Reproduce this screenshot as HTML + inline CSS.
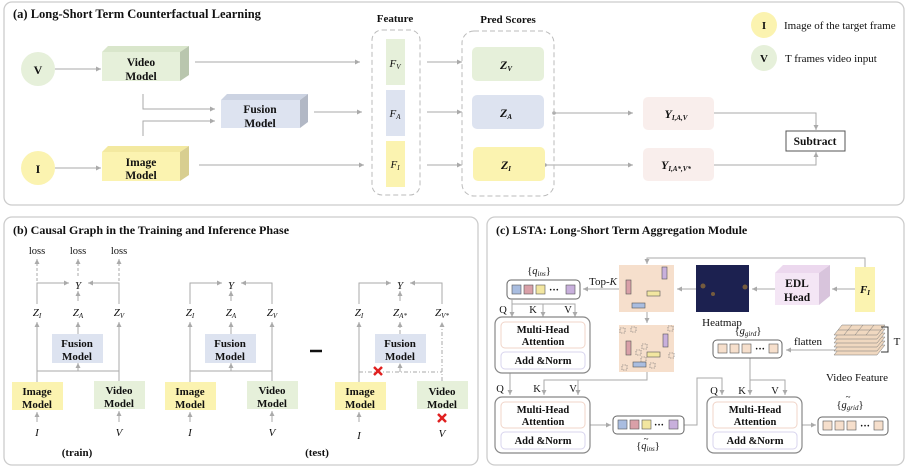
<!DOCTYPE html>
<html><head><meta charset="utf-8"><style>
html,body{margin:0;padding:0;background:#fff}
svg{display:block}
text{font-family:"Liberation Serif",serif;fill:#111}
.b{font-weight:bold}
.i{font-style:italic}
</style></head><body>
<svg width="908" height="471" viewBox="0 0 908 471" xmlns="http://www.w3.org/2000/svg">
<defs>
<marker id="a" markerWidth="6" markerHeight="6" refX="5" refY="3" orient="auto" markerUnits="userSpaceOnUse"><path d="M0,0.5 L5,3 L0,5.5 Z" fill="#aaa"/></marker>
</defs>
<g fill="none" stroke="#ccc" stroke-width="1.3">
<rect x="4" y="2" width="900" height="203" rx="8"/>
<rect x="4" y="217" width="474" height="248" rx="8"/>
<rect x="487" y="217" width="417" height="248" rx="8"/>
</g>
<!-- Panel a -->
<text x="13" y="18" class="b" font-size="12.5">(a) Long-Short Term Counterfactual Learning</text>
<circle cx="38" cy="69" r="17" fill="#e6f0da"/><text x="38" y="74" class="b" font-size="12" text-anchor="middle">V</text>
<circle cx="38" cy="168" r="17" fill="#fbf3b0"/><text x="38" y="173" class="b" font-size="12" text-anchor="middle">I</text>
<polygon points="102,52 108,46 189,46 180,52" fill="#d9e6cb"/><polygon points="180,52 189,46 189,75 180,81" fill="#b9c6ae"/><rect x="102" y="52" width="78" height="29" fill="#e6f0da"/>
<text x="141" y="66" class="b" font-size="11.5" text-anchor="middle">Video</text><text x="141" y="80" class="b" font-size="11.5" text-anchor="middle">Model</text>
<polygon points="221,100 227,94 308,94 300,100" fill="#ccd3e2"/><polygon points="300,100 308,94 308,122 300,128" fill="#b2b8c5"/><rect x="221" y="100" width="79" height="28" fill="#dde3f0"/>
<text x="260" y="113" class="b" font-size="11.5" text-anchor="middle">Fusion</text><text x="260" y="127" class="b" font-size="11.5" text-anchor="middle">Model</text>
<polygon points="102,152 108,146 189,146 180,152" fill="#f3e9a0"/><polygon points="180,152 189,146 189,175 180,181" fill="#d8ce90"/><rect x="102" y="152" width="78" height="29" fill="#fbf3b0"/>
<text x="141" y="166" class="b" font-size="11.5" text-anchor="middle">Image</text><text x="141" y="179" class="b" font-size="11.5" text-anchor="middle">Model</text>
<g stroke="#aaa" stroke-width="1" fill="none" marker-end="url(#a)">
<line x1="55" y1="69" x2="101" y2="69"/><line x1="55" y1="168" x2="101" y2="168"/>
<line x1="195" y1="62" x2="360" y2="62"/><line x1="314" y1="112" x2="362" y2="112"/><line x1="199" y1="165" x2="364" y2="165"/>
<polyline points="143,94 143,109 215,109"/><polyline points="143,136 143,121 215,121"/>
<line x1="427" y1="62" x2="462" y2="62"/><line x1="427" y1="112" x2="462" y2="112"/><line x1="427" y1="165" x2="462" y2="165"/>
<line x1="554" y1="113" x2="633" y2="113"/><line x1="545" y1="165" x2="633" y2="165"/>
<polyline points="714,113 816,113 816,130"/><polyline points="714,165 816,165 816,152"/>
</g>
<circle cx="554" cy="113" r="1.8" fill="#aaa"/><circle cx="545" cy="165" r="1.8" fill="#aaa"/>
<text x="395" y="22" class="b" font-size="11" text-anchor="middle">Feature</text>
<rect x="372" y="30" width="48" height="165" rx="10" fill="none" stroke="#bbb" stroke-dasharray="5,3"/>
<rect x="386" y="39" width="19" height="46" fill="#e6f0da"/><rect x="386" y="90" width="19" height="46" fill="#dde3f0"/><rect x="386" y="141" width="19" height="46" fill="#fbf3b0"/>
<text x="395" y="67" class="i" font-size="11" text-anchor="middle">F<tspan font-size="7" dy="2">V</tspan></text>
<text x="395" y="117" class="i" font-size="11" text-anchor="middle">F<tspan font-size="7" dy="2">A</tspan></text>
<text x="395" y="168" class="i" font-size="11" text-anchor="middle">F<tspan font-size="7" dy="2">I</tspan></text>
<text x="508" y="23" class="b" font-size="11" text-anchor="middle">Pred Scores</text>
<rect x="462" y="31" width="92" height="165" rx="12" fill="none" stroke="#bbb" stroke-dasharray="5,3"/>
<rect x="472" y="47" width="72" height="34" rx="5" fill="#e6f0da"/><rect x="472" y="95" width="72" height="34" rx="5" fill="#dde3f0"/><rect x="473" y="147" width="72" height="34" rx="5" fill="#fbf3b0"/>
<text x="506" y="69" class="b i" font-size="12" text-anchor="middle">Z<tspan font-size="7" dy="2">V</tspan></text>
<text x="506" y="117" class="b i" font-size="12" text-anchor="middle">Z<tspan font-size="7" dy="2">A</tspan></text>
<text x="506" y="169" class="b i" font-size="12" text-anchor="middle">Z<tspan font-size="7" dy="2">I</tspan></text>
<rect x="643" y="97" width="71" height="33" rx="5" fill="#f9eeec"/><rect x="643" y="148" width="71" height="33" rx="5" fill="#f9eeec"/>
<text x="676" y="118" class="b i" font-size="12" text-anchor="middle">Y<tspan font-size="7" dy="2">I,A,V</tspan></text>
<text x="676" y="169" class="b i" font-size="12" text-anchor="middle">Y<tspan font-size="7" dy="2">I,A*,V*</tspan></text>
<rect x="786" y="131" width="59" height="20" fill="#fff" stroke="#555" stroke-width="1"/>
<text x="815" y="145" class="b" font-size="11.5" text-anchor="middle">Subtract</text>
<circle cx="764" cy="25" r="13" fill="#fbf3b0"/><text x="764" y="29" class="b" font-size="11" text-anchor="middle">I</text>
<circle cx="764" cy="58" r="13" fill="#e6f0da"/><text x="764" y="62" class="b" font-size="11" text-anchor="middle">V</text>
<text x="784" y="29" font-size="11">Image of the target frame</text>
<text x="785" y="62" font-size="11">T frames video input</text>
<!-- Panel b -->
<text x="13" y="234" class="b" font-size="12">(b) Causal Graph in the Training and Inference Phase</text>
<g font-size="10.5">
<text x="37" y="254" text-anchor="middle">loss</text><text x="78" y="254" text-anchor="middle">loss</text><text x="119" y="254" text-anchor="middle">loss</text>
</g>
<g stroke="#aaa" stroke-width="1" fill="none" marker-end="url(#a)" stroke-dasharray="3,2">
<line x1="37" y1="281" x2="37" y2="259"/><line x1="78" y1="276" x2="78" y2="259"/><line x1="119" y1="281" x2="119" y2="259"/>
</g>
<g id="g1">
<g stroke="#aaa" stroke-width="1" fill="none" marker-end="url(#a)">
<polyline points="37,304 37,283 69,283"/><polyline points="119,304 119,283 88,283"/>
<line x1="78" y1="301" x2="78" y2="291"/><line x1="78" y1="334" x2="78" y2="322"/>
<line x1="37" y1="382" x2="37" y2="322"/><line x1="119" y1="381" x2="119" y2="322"/>
<line x1="78" y1="371" x2="78" y2="363"/>
<line x1="37" y1="422" x2="37" y2="412"/><line x1="119" y1="422" x2="119" y2="411"/>
</g>
<line x1="37" y1="371" x2="119" y2="371" stroke="#aaa"/>
<text x="78" y="289" class="i" font-size="11" text-anchor="middle">Y</text>
<text x="37" y="316" class="i" font-size="11" text-anchor="middle">Z<tspan font-size="7" dy="2">I</tspan></text>
<text x="78" y="316" class="i" font-size="11" text-anchor="middle">Z<tspan font-size="7" dy="2">A</tspan></text>
<text x="119" y="316" class="i" font-size="11" text-anchor="middle">Z<tspan font-size="7" dy="2">V</tspan></text>
<rect x="52" y="334" width="51" height="29" fill="#dde3f0"/>
<text x="77" y="347" class="b" font-size="11" text-anchor="middle">Fusion</text><text x="77" y="360" class="b" font-size="11" text-anchor="middle">Model</text>
<rect x="12" y="382" width="51" height="28" fill="#fbf3b0"/>
<text x="37" y="395" class="b" font-size="11" text-anchor="middle">Image</text><text x="37" y="408" class="b" font-size="11" text-anchor="middle">Model</text>
<rect x="94" y="381" width="51" height="28" fill="#e6f0da"/>
<text x="119" y="394" class="b" font-size="11" text-anchor="middle">Video</text><text x="119" y="407" class="b" font-size="11" text-anchor="middle">Model</text>
<text x="37" y="436" class="i" font-size="11" text-anchor="middle">I</text><text x="119" y="436" class="i" font-size="11" text-anchor="middle">V</text>
</g>
<use href="#g1" x="153" y="0"/>
<text x="77" y="456" class="b" font-size="11" text-anchor="middle">(train)</text>
<text x="317" y="456" class="b" font-size="11" text-anchor="middle">(test)</text>
<line x1="310" y1="351" x2="322" y2="351" stroke="#111" stroke-width="2.5"/>
<g stroke="#aaa" stroke-width="1" fill="none" marker-end="url(#a)">
<polyline points="359,304 359,283 391,283"/><polyline points="442,304 442,283 410,283"/>
<line x1="400" y1="301" x2="400" y2="291"/>
<line x1="359" y1="382" x2="359" y2="322"/>
<line x1="359" y1="422" x2="359" y2="412"/>
</g>
<g stroke="#aaa" stroke-width="1" fill="none" stroke-dasharray="4,2,1,2" marker-end="url(#a)">
<line x1="400" y1="334" x2="400" y2="322"/><line x1="442" y1="381" x2="442" y2="322"/><line x1="400" y1="372" x2="400" y2="363"/>
</g>
<line x1="359" y1="372" x2="442" y2="372" stroke="#aaa" stroke-dasharray="4,2,1,2"/>
<text x="400" y="289" class="i" font-size="11" text-anchor="middle">Y</text>
<text x="359" y="316" class="i" font-size="11" text-anchor="middle">Z<tspan font-size="7" dy="2">I</tspan></text>
<text x="400" y="316" class="i" font-size="11" text-anchor="middle">Z<tspan font-size="7" dy="2">A*</tspan></text>
<text x="442" y="316" class="i" font-size="11" text-anchor="middle">Z<tspan font-size="7" dy="2">V*</tspan></text>
<rect x="375" y="334" width="51" height="29" fill="#dde3f0"/>
<text x="400" y="347" class="b" font-size="11" text-anchor="middle">Fusion</text><text x="400" y="360" class="b" font-size="11" text-anchor="middle">Model</text>
<rect x="335" y="382" width="51" height="28" fill="#fbf3b0"/>
<text x="360" y="395" class="b" font-size="11" text-anchor="middle">Image</text><text x="360" y="408" class="b" font-size="11" text-anchor="middle">Model</text>
<rect x="417" y="381" width="51" height="28" fill="#e6f0da"/>
<text x="442" y="395" class="b" font-size="11" text-anchor="middle">Video</text><text x="442" y="408" class="b" font-size="11" text-anchor="middle">Model</text>
<text x="359" y="439" class="i" font-size="11" text-anchor="middle">I</text><text x="442" y="437" class="i" font-size="11" text-anchor="middle">V</text>
<g stroke="#e02020" stroke-width="2.5"><line x1="374" y1="367" x2="382" y2="375"/><line x1="382" y1="367" x2="374" y2="375"/><line x1="438" y1="414" x2="446" y2="422"/><line x1="446" y1="414" x2="438" y2="422"/></g>
<!-- Panel c -->
<text x="496" y="234" class="b" font-size="12">(c) LSTA: Long-Short Term Aggregation Module</text>
<text x="539" y="274" font-size="10.5" text-anchor="middle">{<tspan class="i">q</tspan><tspan class="i" font-size="7" dy="2">ins</tspan><tspan dy="-2">}</tspan></text>
<rect x="507" y="280" width="73" height="19" rx="4" fill="#fff" stroke="#666"/>
<rect x="512" y="285" width="9" height="9" fill="#a9bde0" stroke="#555" stroke-width=".6"/><rect x="524" y="285" width="9" height="9" fill="#d9a0a8" stroke="#555" stroke-width=".6"/><rect x="536" y="285" width="9" height="9" fill="#f2e6a0" stroke="#555" stroke-width=".6"/><text x="554" y="293" font-size="10" class="b" text-anchor="middle">···</text><rect x="566" y="285" width="9" height="9" fill="#c8b0dc" stroke="#555" stroke-width=".6"/>
<text x="603" y="285" font-size="11" text-anchor="middle">Top-<tspan class="i">K</tspan></text>
<g stroke="#aaa" stroke-width="1" fill="none" marker-end="url(#a)">
<line x1="619" y1="289" x2="583" y2="289"/>
<line x1="696" y1="289" x2="677" y2="289"/><line x1="775" y1="289" x2="752" y2="289"/><line x1="855" y1="289" x2="832" y2="289"/>
<polyline points="865,267 865,258 647,258 647,264"/>
<line x1="647" y1="312" x2="647" y2="323"/>
<polyline points="512,299 512,304 512,317"/><line x1="543" y1="304" x2="543" y2="317"/><polyline points="512,304 575,304 575,317"/>
<line x1="510" y1="373" x2="510" y2="395"/>
<polyline points="647,372 647,380 544,380 544,395"/><line x1="578" y1="380" x2="578" y2="395"/>
<line x1="590" y1="425" x2="611" y2="425"/>
<polyline points="684,425 697,425 697,378 722,378 722,395"/>
<line x1="750" y1="357" x2="750" y2="395"/><polyline points="750,380 785,380 785,395"/>
<line x1="862" y1="350" x2="786" y2="350"/>
<line x1="795" y1="425" x2="816" y2="425"/>
</g>
<rect x="619" y="265" width="55" height="47" fill="#f6dfcc"/>
<rect x="626" y="280" width="5" height="14" fill="#d9a0a8" stroke="#555" stroke-width=".6"/><rect x="662" y="267" width="5" height="12" fill="#c8b0dc" stroke="#555" stroke-width=".6"/><rect x="647" y="291" width="13" height="5" fill="#f2e6a0" stroke="#555" stroke-width=".6"/><rect x="632" y="303" width="13" height="5" fill="#a9bde0" stroke="#555" stroke-width=".6"/>
<rect x="619" y="325" width="55" height="47" fill="#f6dfcc"/>
<rect x="626" y="341" width="5" height="14" fill="#d9a0a8" stroke="#555" stroke-width=".6"/><rect x="663" y="334" width="5" height="13" fill="#c8b0dc" stroke="#555" stroke-width=".6"/><rect x="647" y="352" width="13" height="5" fill="#f2e6a0" stroke="#555" stroke-width=".6"/><rect x="633" y="362" width="13" height="5" fill="#a9bde0" stroke="#555" stroke-width=".6"/>
<g fill="none" stroke="#666" stroke-width=".6" stroke-dasharray="1.5,1"><rect x="620" y="328" width="5" height="5"/><rect x="631" y="327" width="5" height="5"/><rect x="668" y="326" width="5" height="5"/><rect x="642" y="344" width="5" height="5"/><rect x="636" y="350" width="5" height="5"/><rect x="650" y="363" width="5" height="5"/><rect x="669" y="353" width="5" height="5"/><rect x="622" y="365" width="5" height="5"/><rect x="641" y="357" width="5" height="5"/></g>
<rect x="696" y="265" width="53" height="47" fill="#1c2150"/>
<g fill="#8a6a3a" opacity=".8"><circle cx="703" cy="286" r="2.5"/><circle cx="745" cy="287" r="2.5"/><circle cx="713" cy="294" r="2"/></g>
<text x="722" y="326" font-size="11" text-anchor="middle">Heatmap</text>
<polygon points="775,273 783,265 830,265 819,273" fill="#ecd8ee"/><polygon points="819,273 830,265 830,296 819,305" fill="#d8c4dc"/><rect x="775" y="273" width="44" height="32" fill="#f4e6f5"/>
<text x="797" y="287" class="b" font-size="11.5" text-anchor="middle">EDL</text><text x="797" y="301" class="b" font-size="11.5" text-anchor="middle">Head</text>
<rect x="855" y="267" width="20" height="45" fill="#fbf3b0"/><text x="865" y="293" class="b i" font-size="11" text-anchor="middle">F<tspan font-size="7" dy="2">I</tspan></text>
<g font-size="10.5"><text x="503" y="313" text-anchor="middle">Q</text><text x="533" y="313" text-anchor="middle">K</text><text x="568" y="313" text-anchor="middle">V</text>
<text x="500" y="392" text-anchor="middle">Q</text><text x="537" y="392" text-anchor="middle">K</text><text x="573" y="392" text-anchor="middle">V</text>
<text x="714" y="394" text-anchor="middle">Q</text><text x="742" y="394" text-anchor="middle">K</text><text x="775" y="394" text-anchor="middle">V</text></g>
<g id="mha">
<rect x="495" y="317" width="95" height="56" rx="7" fill="#fff" stroke="#888" stroke-width="1.2"/>
<rect x="501" y="322" width="84" height="26" rx="4" fill="#fff" stroke="#f0d4c8"/>
<rect x="501" y="352" width="84" height="17" rx="4" fill="#fff" stroke="#d8d4ee"/>
<text x="543" y="333" class="b" font-size="10.5" text-anchor="middle">Multi-Head</text><text x="543" y="345" class="b" font-size="10.5" text-anchor="middle">Attention</text>
<text x="543" y="364" class="b" font-size="10.5" text-anchor="middle">Add &amp;Norm</text>
</g>
<use href="#mha" x="0" y="80"/>
<use href="#mha" x="212" y="80"/>
<rect x="613" y="416" width="71" height="18" rx="4" fill="#fff" stroke="#666"/>
<rect x="618" y="420" width="9" height="9" fill="#a9bde0" stroke="#555" stroke-width=".6"/><rect x="630" y="420" width="9" height="9" fill="#d9a0a8" stroke="#555" stroke-width=".6"/><rect x="642" y="420" width="9" height="9" fill="#f2e6a0" stroke="#555" stroke-width=".6"/><text x="659" y="428" font-size="10" class="b" text-anchor="middle">···</text><rect x="669" y="420" width="9" height="9" fill="#c8b0dc" stroke="#555" stroke-width=".6"/>
<text x="648" y="449" font-size="10.5" text-anchor="middle">{<tspan class="i">q</tspan><tspan class="i" font-size="7" dy="2">ins</tspan><tspan dy="-2">}</tspan></text>
<text x="646" y="442" font-size="9" text-anchor="middle">~</text>
<text x="748" y="334" font-size="10.5" text-anchor="middle">{<tspan class="i">g</tspan><tspan class="i" font-size="7" dy="2">gird</tspan><tspan dy="-2">}</tspan></text>
<rect x="713" y="340" width="69" height="18" rx="4" fill="#fff" stroke="#666"/>
<g fill="#f6dfcc" stroke="#555" stroke-width=".6"><rect x="718" y="344" width="9" height="9"/><rect x="730" y="344" width="9" height="9"/><rect x="742" y="344" width="9" height="9"/><rect x="769" y="344" width="9" height="9"/></g>
<text x="760" y="352" font-size="10" class="b" text-anchor="middle">···</text>
<text x="808" y="345" font-size="11" text-anchor="middle">flatten</text>
<g fill="#f0d8c0" stroke="#777" stroke-width=".5">
<polygon points="842,345 885,345 877,355 834,355"/>
<polygon points="842,341 885,341 877,351 834,351"/>
<polygon points="842,337 885,337 877,347 834,347"/>
<polygon points="842,333 885,333 877,343 834,343"/>
<polygon points="842,329 885,329 877,339 834,339"/>
<polygon points="842,325 885,325 877,335 834,335"/>
</g>
<g stroke="#777" stroke-width=".5"><line x1="852" y1="325" x2="844" y2="335"/><line x1="863" y1="325" x2="855" y2="335"/><line x1="874" y1="325" x2="866" y2="335"/><line x1="838" y1="330" x2="881" y2="330"/></g>
<polyline points="881,327 888,327 888,352 881,352" fill="none" stroke="#333"/>
<text x="897" y="345" font-size="11" text-anchor="middle">T</text>
<text x="857" y="381" font-size="11" text-anchor="middle">Video Feature</text>
<text x="850" y="408" font-size="10.5" text-anchor="middle">{<tspan class="i">g</tspan><tspan class="i" font-size="7" dy="2">grid</tspan><tspan dy="-2">}</tspan></text>
<text x="848" y="400" font-size="9" text-anchor="middle">~</text>
<rect x="818" y="417" width="70" height="18" rx="4" fill="#fff" stroke="#666"/>
<g fill="#f6dfcc" stroke="#555" stroke-width=".6"><rect x="823" y="421" width="9" height="9"/><rect x="835" y="421" width="9" height="9"/><rect x="847" y="421" width="9" height="9"/><rect x="874" y="421" width="9" height="9"/></g>
<text x="865" y="429" font-size="10" class="b" text-anchor="middle">···</text>
</svg>
</body></html>
